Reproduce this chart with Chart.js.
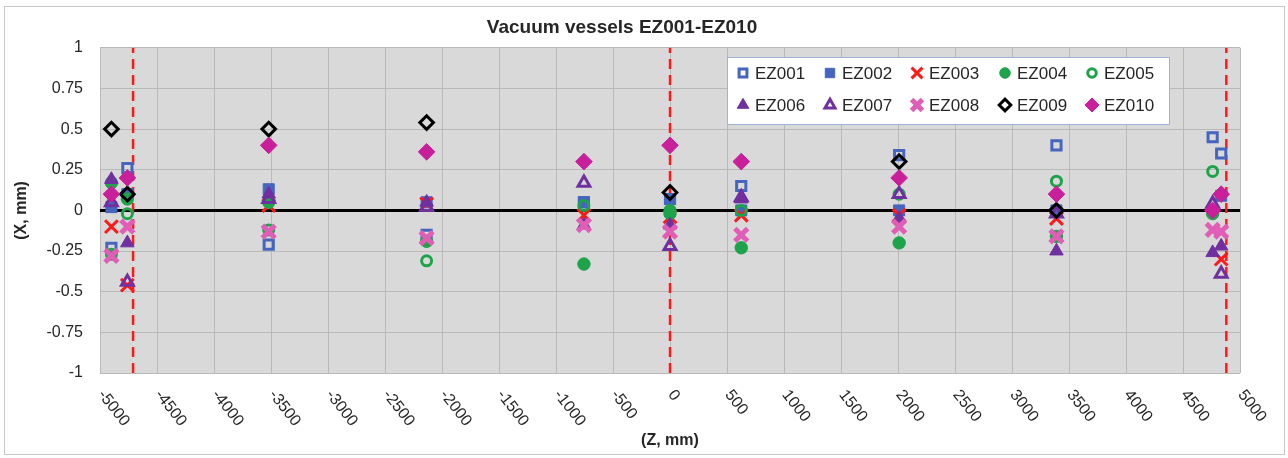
<!DOCTYPE html>
<html><head><meta charset="utf-8">
<script src="https://cdn.jsdelivr.net/npm/chart.js@4.4.1/dist/chart.umd.min.js"></script>
<style>html,body{margin:0;padding:0;background:#fff}#wrap{width:1288px;height:458px}</style>
</head><body><div id="wrap"><canvas id="c" width="1288" height="458"></canvas></div>
<script>
// ---- data ----
const zPositions = [-4900, -4760, -3520, -2135, -755, 0, 625, 2010, 3390, 4760, 4835];
const seriesNames = ['EZ001','EZ002','EZ003','EZ004','EZ005','EZ006','EZ007','EZ008','EZ009','EZ010'];
const ez001 = [-0.23, 0.26, -0.21, -0.15, 0.05, 0.07, 0.15, 0.34, 0.40, 0.45, 0.35];
const ez002 = [0.02, 0.10, 0.13, 0.05, 0.05, 0.07, 0.00, 0.00, 0.00, null, 0.09];
const ez003 = [-0.10, -0.46, 0.03, 0.04, -0.03, -0.04, -0.03, -0.03, -0.05, null, -0.30];
const ez004 = [0.17, 0.07, 0.05, -0.19, -0.33, -0.02, -0.23, -0.20, -0.16, -0.02, null];
const ez005 = [-0.27, -0.02, -0.12, -0.31, 0.03, 0.00, 0.00, 0.10, 0.18, 0.24, null];
const ez006 = [0.19, -0.20, 0.10, 0.05, -0.09, -0.09, 0.07, -0.05, -0.25, -0.26, -0.22];
const ez007 = [0.05, -0.44, 0.07, 0.02, 0.17, -0.22, 0.08, 0.10, -0.02, 0.04, -0.39];
const ez008 = [-0.28, -0.10, -0.13, -0.17, -0.09, -0.13, -0.15, -0.10, -0.16, -0.12, -0.13];
const ez009 = [0.50, 0.10, 0.50, 0.54, null, 0.11, null, 0.30, 0.00, null, null];
const ez010 = [0.10, 0.20, 0.40, 0.36, 0.30, 0.40, 0.30, 0.20, 0.10, 0.00, 0.10];
const seriesValues = [ez001, ez002, ez003, ez004, ez005, ez006, ez007, ez008, ez009, ez010];
const redLinePositions = [-4710, 0, 4880];
const xTickValues = [-5000,-4500,-4000,-3500,-3000,-2500,-2000,-1500,-1000,-500,0,500,1000,1500,2000,2500,3000,3500,4000,4500,5000];
const xTickLabels = ['-5000','-4500','-4000','-3500','-3000','-2500','-2000','-1500','-1000','-500','0','500','1000','1500','2000','2500','3000','3500','4000','4500','5000'];
const yTickValues = [1, 0.75, 0.5, 0.25, 0, -0.25, -0.5, -0.75, -1];
const yTickLabels = ['1','0.75','0.5','0.25','0','-0.25','-0.5','-0.75','-1'];
const titleText = 'Vacuum vessels EZ001-EZ010';
const xTitle = '(Z, mm)';
const yTitle = '(X, mm)';

// ---- styles ----
const FONT = '"Liberation Sans", Arial, sans-serif';
const TXT = '#262626';
const BLUE = '#4565BE', RED = '#FF1A1A', GREEN = '#1DA34A', PURPLE = '#7030A0', PINK = '#E05EB5', BLACK = '#000000', MAGENTA = '#CA1F9B';
const NONE = 'rgba(0,0,0,0)';
const markerStyles = [
  {pointStyle:'rect', radius:6.5, bg:NONE, border:BLUE, bw:3},
  {pointStyle:'rect', radius:7.8, bg:BLUE, border:BLUE, bw:1},
  {pointStyle:'crossRot', radius:9, bg:RED, border:RED, bw:3},
  {pointStyle:'circle', radius:6.2, bg:GREEN, border:GREEN, bw:1},
  {pointStyle:'circle', radius:5, bg:NONE, border:GREEN, bw:3},
  {pointStyle:'triangle', radius:7.8, bg:PURPLE, border:PURPLE, bw:1},
  {pointStyle:'triangle', radius:6.8, bg:NONE, border:PURPLE, bw:3},
  {pointStyle:'crossRot', radius:9, bg:PINK, border:PINK, bw:5},
  {pointStyle:'rectRot', radius:6.8, bg:NONE, border:BLACK, bw:3},
  {pointStyle:'rectRot', radius:8.3, bg:MAGENTA, border:MAGENTA, bw:1}
];

const datasets = seriesNames.map((name, i) => ({
  type: 'scatter',
  label: name,
  data: zPositions.map((z, j) => ({x: z, y: seriesValues[i][j]})).filter(p => p.y !== null),
  pointStyle: markerStyles[i].pointStyle,
  pointRadius: markerStyles[i].radius,
  pointHoverRadius: markerStyles[i].radius,
  backgroundColor: markerStyles[i].bg,
  borderColor: markerStyles[i].border,
  pointBorderWidth: markerStyles[i].bw,
  order: 20 - i
}));
redLinePositions.forEach(v => datasets.push({
  type: 'line', label: '_red', data: [{x: v, y: -1}, {x: v, y: 1}],
  borderColor: RED, borderWidth: 2.5, borderDash: [10, 6], pointRadius: 0, order: 100
}));

const frame = {
  id: 'frame',
  beforeDraw(chart) {
    const {ctx, chartArea: a} = chart;
    ctx.save();
    ctx.fillStyle = '#fff'; ctx.fillRect(0, 0, chart.width, chart.height);
    ctx.strokeStyle = '#c8c8c8'; ctx.lineWidth = 1; ctx.strokeRect(4.5, 6.5, chart.width - 8, chart.height - 10);
    ctx.fillStyle = '#d9d9d9'; ctx.fillRect(a.left, a.top, a.right - a.left, a.bottom - a.top);
    ctx.restore();
  },
  afterDraw(chart) {
    const {ctx} = chart;
    const xs = chart.scales.x;
    ctx.save();
    // rotated x tick labels (clockwise)
    ctx.font = '16px ' + FONT; ctx.fillStyle = TXT; ctx.textAlign = 'left'; ctx.textBaseline = 'middle';
    xTickValues.forEach((v, i) => {
      const px = xs.getPixelForValue(v);
      ctx.save(); ctx.translate(px + 1, xs.top + 19); ctx.rotate(52 * Math.PI / 180);
      ctx.fillText(xTickLabels[i], 0, 0); ctx.restore();
    });
    // legend box
    const L = {x: 727, y: 57, w: 442, h: 67};
    ctx.fillStyle = '#fff'; ctx.fillRect(L.x, L.y, L.w, L.h);
    ctx.strokeStyle = '#9FB3D9'; ctx.lineWidth = 1; ctx.strokeRect(L.x + 0.5, L.y + 0.5, L.w, L.h);
    const colX = [743, 830, 917, 1005, 1092], rowY = [73, 105];
    seriesNames.forEach((name, i) => {
      const cx = colX[i % 5], cy = rowY[Math.floor(i / 5)];
      const m = markerStyles[i];
      ctx.fillStyle = m.bg; ctx.strokeStyle = m.border; ctx.lineWidth = m.bw;
      Chart.helpers.drawPoint(ctx, {pointStyle: m.pointStyle, radius: m.radius * 0.85, rotation: 0, borderWidth: m.bw}, cx, cy);
      ctx.fillStyle = TXT; ctx.font = '17px ' + FONT; ctx.textAlign = 'left'; ctx.textBaseline = 'middle';
      ctx.fillText(name, cx + 12, cy + 1);
    });
    ctx.restore();
  }
};

new Chart(document.getElementById('c'), {
  data: {datasets},
  options: {
    responsive: false, animation: false, devicePixelRatio: 1,
    layout: {padding: {top: 16, left: 4, right: 48, bottom: 8}},
    plugins: {
      legend: {display: false}, tooltip: {enabled: false},
      title: {display: true, text: titleText, color: TXT, font: {family: FONT, size: 19, weight: 'bold'}, padding: {top: 0, bottom: 9}}
    },
    scales: {
      x: {
        type: 'linear', min: -5000, max: 5000,
        afterBuildTicks: s => { s.ticks = xTickValues.map(v => ({value: v})); },
        afterFit: s => { s.height = 77; },
        ticks: {display: false},
        grid: {color: '#b9b9b9', lineWidth: 1, drawTicks: false},
        border: {display: false},
        title: {display: true, text: xTitle, color: TXT, font: {family: FONT, size: 16, weight: 'bold'}, padding: {top: 0, bottom: 0}}
      },
      y: {
        type: 'linear', min: -1, max: 1,
        afterBuildTicks: s => { s.ticks = yTickValues.map(v => ({value: v})); },
        afterFit: s => { s.width = 96; },
        ticks: {color: TXT, font: {family: FONT, size: 16}, padding: 17,
          callback: v => { const k = yTickValues.indexOf(v); return k >= 0 ? yTickLabels[k] : ''; }},
        grid: {color: c => c.tick && c.tick.value === 0 ? '#000' : '#b9b9b9', lineWidth: c => c.tick && c.tick.value === 0 ? 3 : 1, drawTicks: false},
        border: {display: false},
        title: {display: true, text: yTitle, color: TXT, font: {family: FONT, size: 16, weight: 'bold'}, padding: {top: 8, bottom: 0}}
      }
    }
  },
  plugins: [frame]
});
</script></body></html>
